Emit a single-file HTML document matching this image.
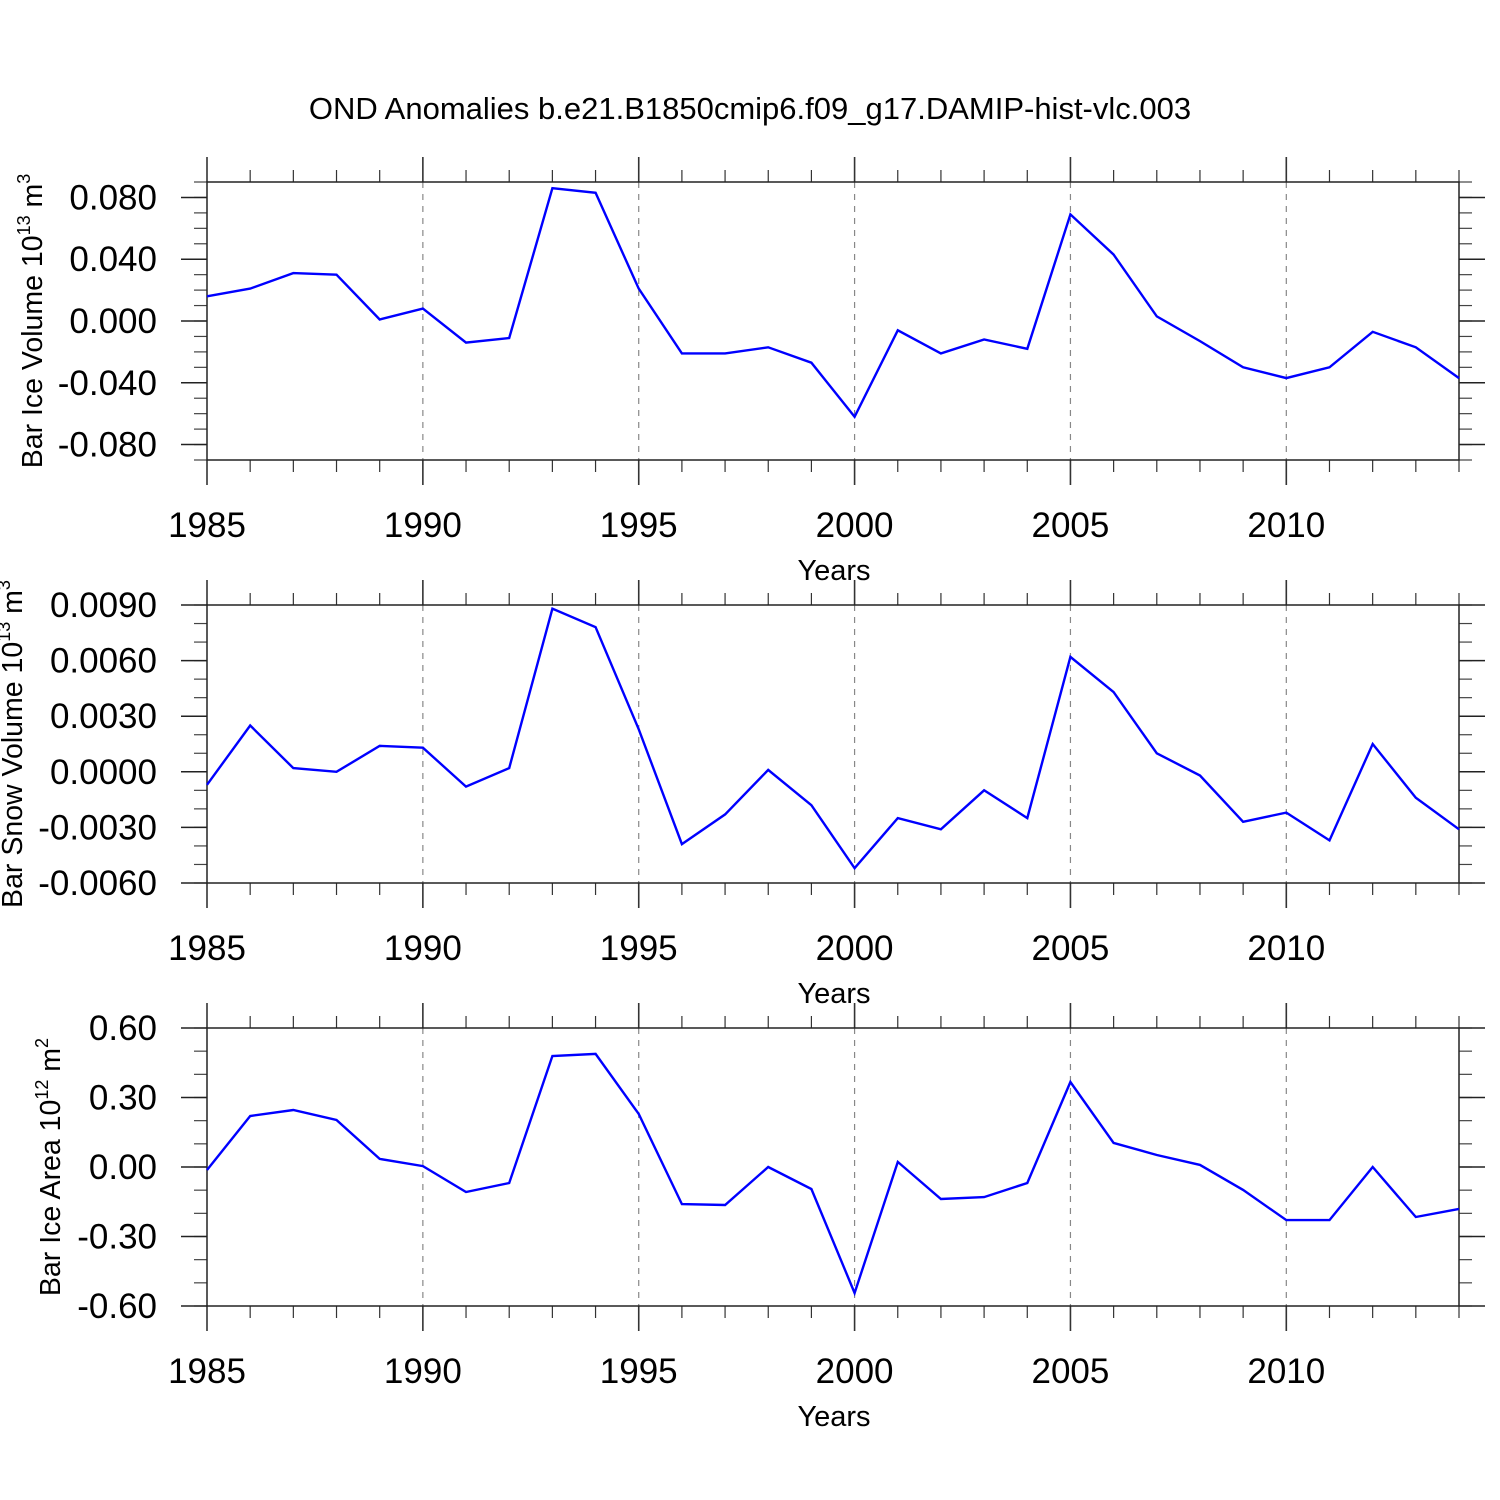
<!DOCTYPE html>
<html><head><meta charset="utf-8"><style>
html,body{margin:0;padding:0;background:#fff;}
svg{display:block;font-family:"Liberation Sans",sans-serif;}
</style></head><body>
<svg id="chart" width="1500" height="1500" xmlns="http://www.w3.org/2000/svg">
<text x="750" y="119" font-size="31" text-anchor="middle">OND Anomalies b.e21.B1850cmip6.f09_g17.DAMIP-hist-vlc.003</text>
</svg>
<script>
const years = [1985,1986,1987,1988,1989,1990,1991,1992,1993,1994,1995,1996,1997,1998,1999,2000,2001,2002,2003,2004,2005,2006,2007,2008,2009,2010,2011,2012,2013,2014];
const xTickYears = [1985,1990,1995,2000,2005,2010];
const iceVolume = [0.016,0.021,0.031,0.030,0.001,0.008,-0.014,-0.011,0.086,0.083,0.021,-0.021,-0.021,-0.017,-0.027,-0.062,-0.006,-0.021,-0.012,-0.018,0.069,0.043,0.003,-0.013,-0.030,-0.037,-0.030,-0.007,-0.017,-0.037];
const snowVolume = [-0.0007,0.0025,0.0002,0.0000,0.0014,0.0013,-0.0008,0.0002,0.0088,0.0078,0.0023,-0.0039,-0.0023,0.0001,-0.0018,-0.0052,-0.0025,-0.0031,-0.0010,-0.0025,0.0062,0.0043,0.0010,-0.0002,-0.0027,-0.0022,-0.0037,0.0015,-0.0014,-0.0031];
const iceArea = [-0.013,0.22,0.246,0.203,0.035,0.004,-0.108,-0.069,0.479,0.488,0.229,-0.16,-0.164,0,-0.095,-0.544,0.022,-0.138,-0.13,-0.069,0.367,0.104,0.052,0.009,-0.099,-0.229,-0.229,0,-0.216,-0.181];
const iceVolTicks = [0.08,0.04,0,-0.04,-0.08];
const iceVolTickLabels = ["0.080","0.040","0.000","-0.040","-0.080"];
const snowTicks = [0.009,0.006,0.003,0,-0.003,-0.006];
const snowTickLabels = ["0.0090","0.0060","0.0030","0.0000","-0.0030","-0.0060"];
const areaTicks = [0.6,0.3,0,-0.3,-0.6];
const areaTickLabels = ["0.60","0.30","0.00","-0.30","-0.60"];

const NS="http://www.w3.org/2000/svg";
const svg=document.getElementById('chart');
function mk(tag,attrs,parent){const e=document.createElementNS(NS,tag);for(const k in attrs)e.setAttribute(k,attrs[k]);(parent||svg).appendChild(e);return e;}
const X0=207,X1=1459;
function xs(yr){return X0+(yr-1985)/(2014-1985)*(X1-X0);}

function panel(name,top,ymin,ymax,ticks,labels,minorStep,data,titleMain,sup,unit,titleX){
  const bot=top+278;
  const g=mk('g',{});
  
  
  const ys=v=>bot-(v-ymin)/(ymax-ymin)*(bot-top);
  xTickYears.slice(1).forEach(yr=>{const l=mk('line',{x1:xs(yr),x2:xs(yr),y1:top,y2:bot,stroke:'#888','stroke-width':1.2,'stroke-dasharray':'6,6'},g);
    });
  years.forEach(yr=>{const maj=xTickYears.includes(yr);const len=maj?25:12;const x=xs(yr);
    const t1=mk('line',{x1:x,x2:x,y1:top,y2:top-len,stroke:'#333','stroke-width':maj?1.6:1.2},g);
    
    const t2=mk('line',{x1:x,x2:x,y1:bot,y2:bot+len,stroke:'#333','stroke-width':maj?1.6:1.2},g);
    
    if(maj){const t=mk('text',{x:x,y:bot+77,'font-size':35,'text-anchor':'middle'},g);t.textContent=yr;
      }
  });
  const n=Math.round((ymax-ymin)/minorStep);
  for(let i=0;i<=n;i++){const v=ymin+i*minorStep;const y=ys(v);
    const a=mk('line',{x1:X0,x2:X0-13,y1:y,y2:y,stroke:'#444','stroke-width':1.2},g);
    
    const b=mk('line',{x1:X1,x2:X1+13,y1:y,y2:y,stroke:'#444','stroke-width':1.2},g);
    }
  ticks.forEach((v,i)=>{const y=ys(v);
    const a=mk('line',{x1:X0,x2:X0-26,y1:y,y2:y,stroke:'#222','stroke-width':1.5},g);
    
    const b=mk('line',{x1:X1,x2:X1+26,y1:y,y2:y,stroke:'#222','stroke-width':1.5},g);
    
    const t=mk('text',{x:157,y:y+12,'font-size':35,'text-anchor':'end'},g);t.textContent=labels[i];
    });
  const r=mk('rect',{x:X0,y:top,width:X1-X0,height:bot-top,fill:'none',stroke:'#222','stroke-width':1.5},g);
  
  const pts=data.map((v,i)=>xs(years[i]).toFixed(1)+','+ys(v).toFixed(1)).join(' ');
  const pl=mk('polyline',{points:pts,fill:'none',stroke:'#0000ff','stroke-width':2.4,'stroke-linejoin':'miter'},g);
  
  const xt=mk('text',{x:834,y:bot+120,'font-size':29,'text-anchor':'middle'},g);xt.textContent='Years';
  
  const cy=(top+bot)/2;
  const yt=mk('text',{x:0,y:0,'font-size':28.5,'text-anchor':'middle',transform:`translate(${titleX},${cy}) rotate(-90)`},g);
  
  const s1=mk('tspan',{},yt);s1.textContent=titleMain;
  const s2=mk('tspan',{dy:-12,'font-size':18},yt);s2.textContent=sup;
  const s3=mk('tspan',{dy:12},yt);s3.textContent=' m';
  const s4=mk('tspan',{dy:-12,'font-size':18},yt);s4.textContent=unit;
}
panel('ice-volume',182,-0.09,0.09,iceVolTicks,iceVolTickLabels,0.01,iceVolume,'Bar Ice Volume 10','13','3',42);
panel('snow-volume',605,-0.006,0.009,snowTicks,snowTickLabels,0.001,snowVolume,'Bar Snow Volume 10','13','3',22);
panel('ice-area',1028,-0.6,0.6,areaTicks,areaTickLabels,0.1,iceArea,'Bar Ice Area 10','12','2',60);
</script>
</body></html>
